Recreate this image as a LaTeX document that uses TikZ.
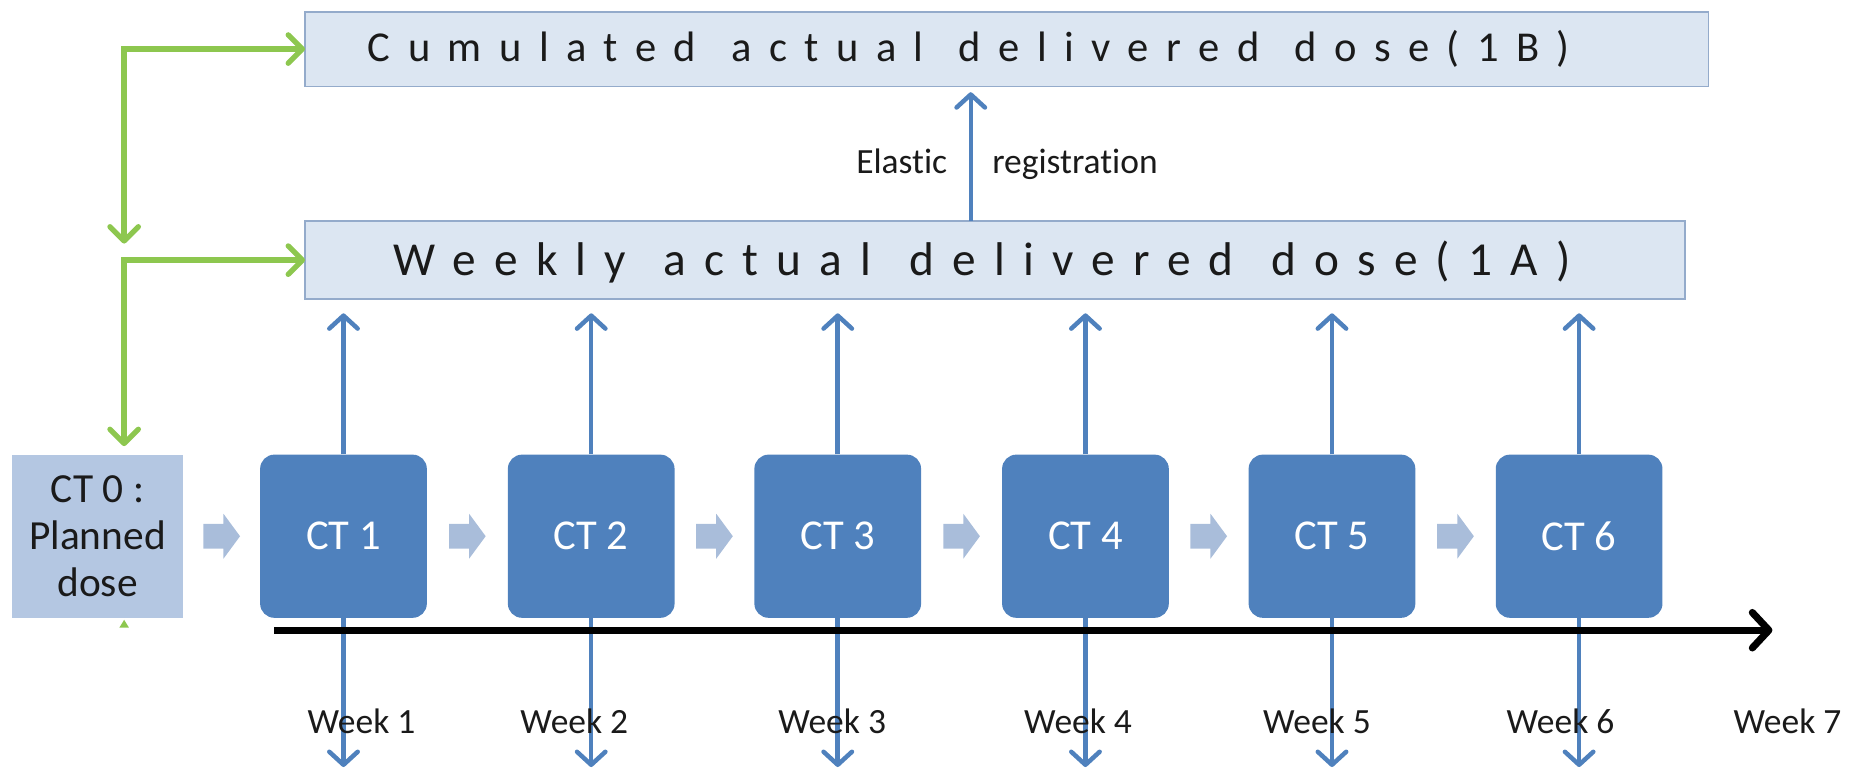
\documentclass[tikz,border=0pt]{standalone}
\usepackage{fontspec}
\setmainfont{Carlito}[Ligatures=NoCommon]
\newfontfamily\cumfont{Carlito}[LetterSpace=41, WordSpace=1.3, Ligatures=NoCommon]
\newfontfamily\wkfont{Carlito}[LetterSpace=38.5, WordSpace=1.3, Ligatures=NoCommon]
\usetikzlibrary{arrows.meta,calc}

\definecolor{ctblue}{HTML}{4F81BD}
\definecolor{paleblue}{HTML}{DCE6F2}
\definecolor{paleedge}{HTML}{94ABCB}
\definecolor{plannedfill}{HTML}{B4C7E2}
\definecolor{chevfill}{HTML}{A9BDDA}
\definecolor{linkgreen}{HTML}{8DC74F}
\definecolor{inkdark}{HTML}{1A1A1A}

\tikzset{
  dosebox/.style={draw=paleedge, line width=1.2, fill=paleblue, anchor=north west,
    inner sep=0, outer sep=0},
  titletext/.style={anchor=base west, inner sep=0, text=inkdark},
  ctbox/.style={fill=ctblue, rounded corners=12, minimum width=141, minimum height=138,
    inner sep=0, text=white, font=\fontsize{36}{42}\selectfont},
  plannedbox/.style={fill=plannedfill, minimum width=145, minimum height=138,
    inner sep=0, align=center, text=inkdark, font=\fontsize{35}{39.5}\selectfont},
  bluelink/.style={draw=ctblue, line width=3.8,
    -{Straight Barb[length=11, width=24, round]}},
  greenlink/.style={draw=linkgreen, line width=4.5,
    {Straight Barb[length=12, width=24, round]}-{Straight Barb[length=12, width=24, round]}},
  timeaxis/.style={draw=black, line width=6, -{Straight Barb[length=14, width=30, round]}},
  weeklabel/.style={anchor=base west, inner sep=0, text=inkdark, font=\fontsize{30}{36}\selectfont},
  notelabel/.style={anchor=base west, inner sep=0, text=inkdark, font=\fontsize{30}{36}\selectfont},
  chevron/.pic={\fill[chevfill] (-15.5,-10.5) -- (1.5,-10.5) -- (1.5,-19) -- (15.5,0)
    -- (1.5,19) -- (1.5,10.5) -- (-15.5,10.5) -- cycle;}
}

\begin{document}
\begin{tikzpicture}[x=1pt, y=-1pt]
\useasboundingbox (0,0) rectangle (1568,651);

% dose boxes
\node[dosebox, minimum width=1187, minimum height=63] (cum) at (258,10) {};
\node[dosebox, minimum width=1167, minimum height=66] (wk) at (258,187) {};
\node[titletext, font=\cumfont\fontsize{36}{42}\selectfont]
  (cumtext) at (311,52) {Cumulated actual delivered dose(1B)};
\node[titletext, font=\wkfont\fontsize{40}{46}\selectfont]
  (wktext) at (333,233) {Weekly actual delivered dose(1A)};

% planning CT and weekly CTs
\node[plannedbox] (ct0) at (82.5,453.5) {CT 0 :\\Planned\\dose};
\foreach \i/\x in {1/290.5, 2/500, 3/708.5, 4/918, 5/1126.5, 6/1335.5}
  \node[ctbox] (ct\i) at (\x,453.5) {CT \i};

% sequence chevrons
\foreach \a/\b in {0/1, 1/2, 2/3, 3/4, 4/5, 5/6}
  \pic at ($(ct\a.east)!0.5!(ct\b.west)$) {chevron};

% time axis with week ticks
\coordinate (axisstart) at (232,533);
\coordinate (axisend) at (1499,533);
\foreach \i in {1,...,6} {
  \coordinate (tick\i) at ($(ct\i.south)+(0,126)$);
  \draw[bluelink] (ct\i.south) -- (tick\i);
  \draw[bluelink] (ct\i.north) -- ($(ct\i.north |- wk.south)+(0,12)$);
}
\draw[timeaxis] (axisstart) -- (axisend);

% registration step
\coordinate (regtip) at ($(wk.north -| 821,0)+(0,-109)$);
\draw[bluelink] (wk.north -| regtip) -- (regtip);
\node[notelabel] (elastic) at (724,147) {Elastic};
\node[notelabel] (registration) at (839,147) {registration};

% feedback from the planned dose
\coordinate (gx) at (105,0);
\draw[greenlink] (cum.west) -- (cum.west -| gx) -- ($(wk.north -| gx)+(0,19)$);
\draw[greenlink] (wk.west) -- (wk.west -| gx) -- ($(ct0.north -| gx)+(0,-7)$);
\fill[linkgreen] ($(ct0.south -| gx)+(-4,8)$) -- ($(ct0.south -| gx)+(0,1.5)$)
  -- ($(ct0.south -| gx)+(4,8)$) -- cycle;

% week labels
\foreach \i/\x in {1/260, 2/440, 3/658, 4/866, 5/1068, 6/1274, 7/1466}
  \node[weeklabel] (week\i) at (\x,620) {Week \i};
\end{tikzpicture}
\end{document}
